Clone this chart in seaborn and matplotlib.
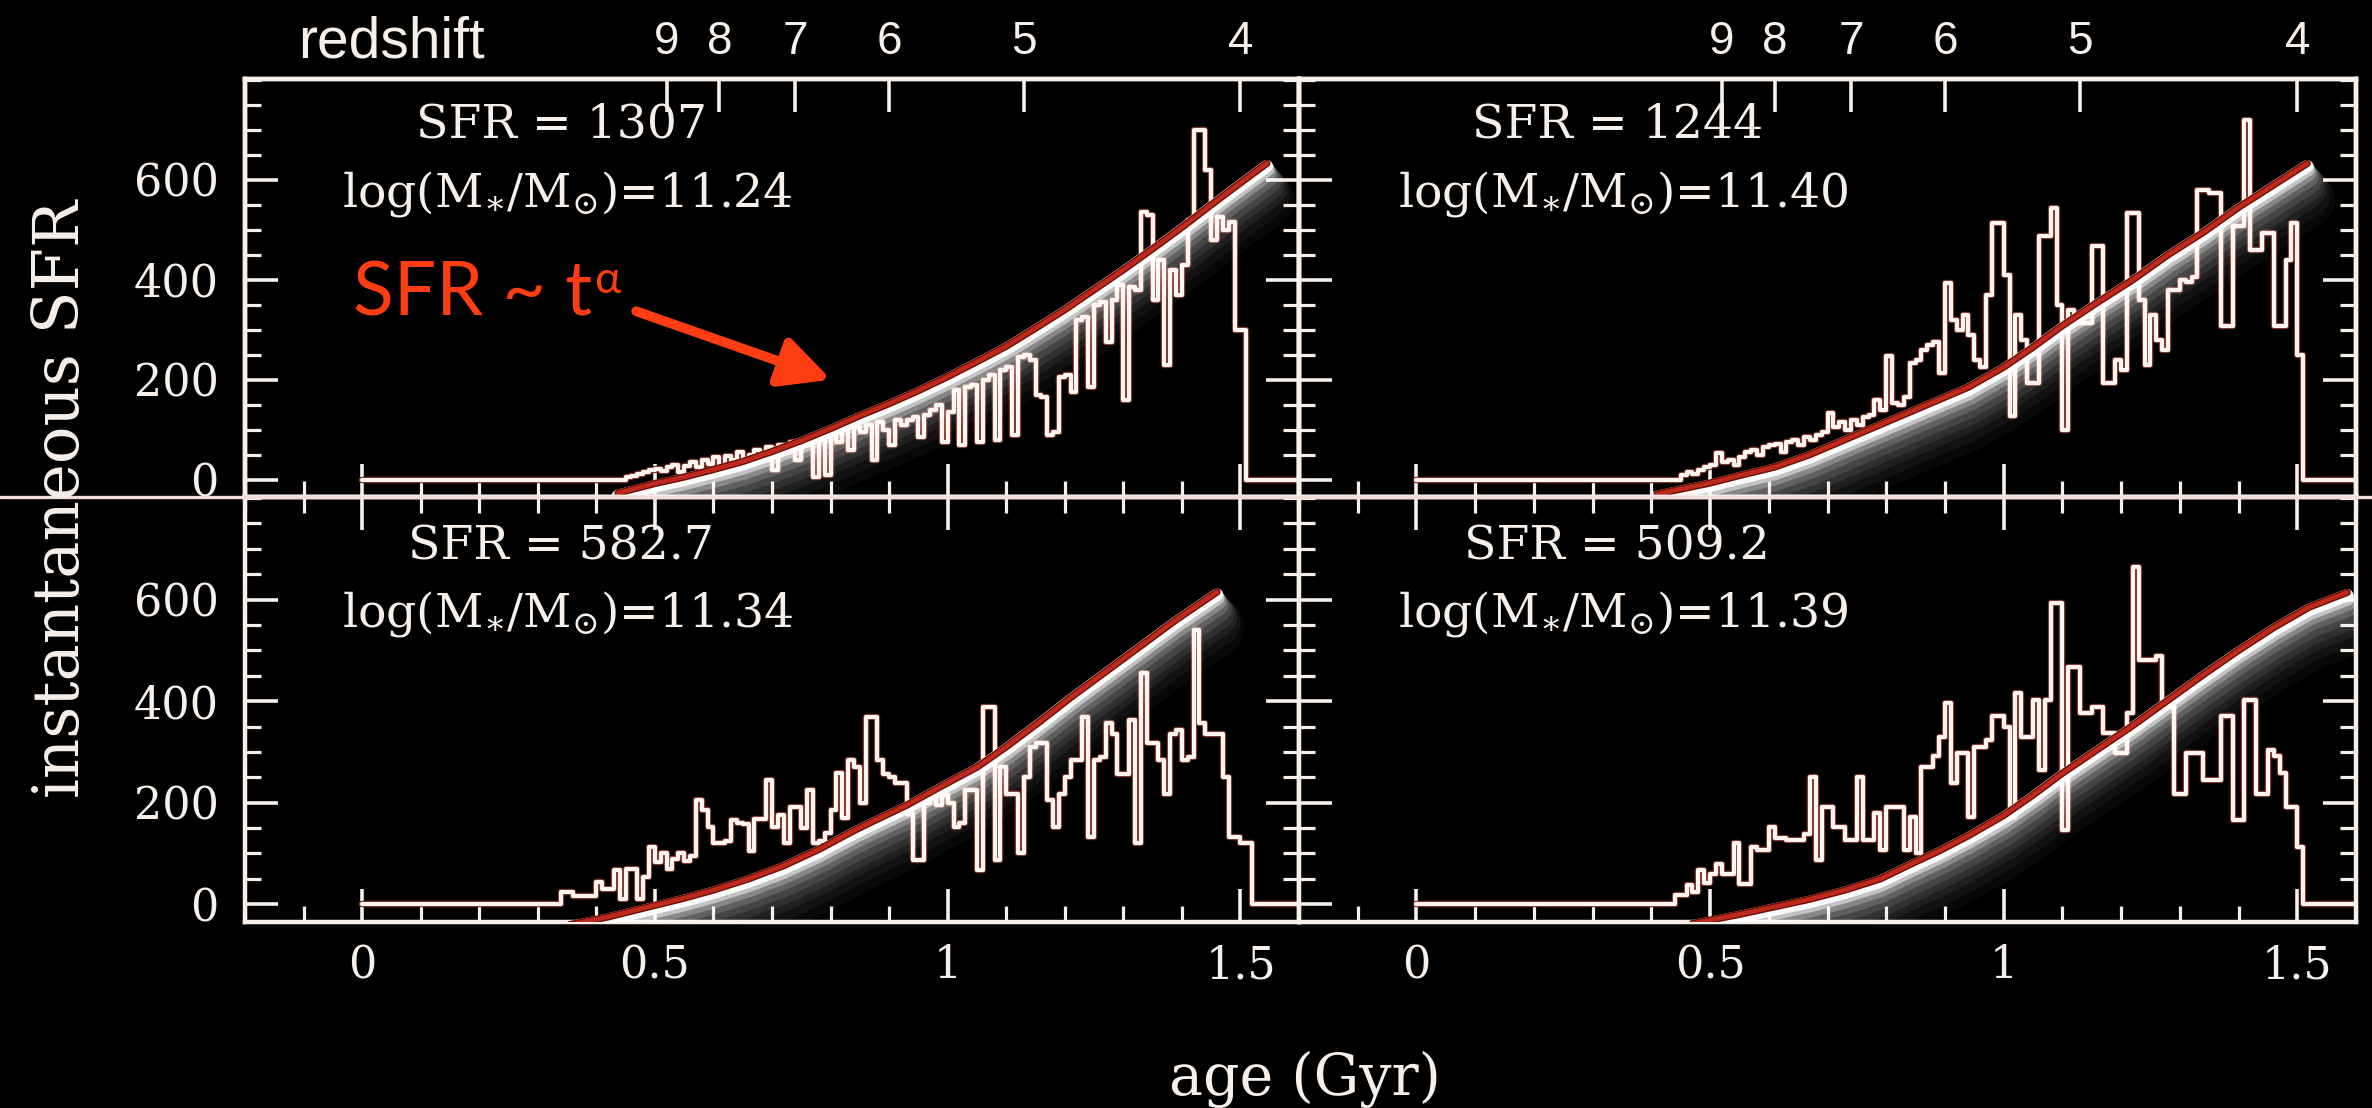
import numpy as np
import matplotlib
matplotlib.use("Agg")
import matplotlib.pyplot as plt
import matplotlib.patheffects as pe
from matplotlib.ticker import FixedLocator, MultipleLocator, NullLocator, FixedFormatter
from matplotlib.lines import Line2D
import seaborn as sns

# ---------------- data ----------------
BIN_W = 0.01

tl_start = 0.45
tl_hist = [5, 8, 12, 15, 20, 22, 18, 25, 30, 15,
           28, 35, 25, 40, 32, 45, 20, 48, 40, 55,
           30, 50, 60, 45, 65, 20, 70, 55, 75, 40,
           80, 70, 5, 85, 10, 90, 75, 100, 60, 105,
           95, 110, 40, 115, 100, 70, 120, 110,
           120, 125, 85, 130, 140, 150, 75, 135, 180, 70,
           185, 190, 75, 200, 210, 80, 220, 225, 90, 245,
           250, 240, 170, 165, 90, 95, 205, 210, 175, 320,
           325, 185, 350, 355, 275, 360, 390, 160, 385, 380,
           535, 530, 360, 440, 230, 420, 370, 430, 520, 700,
           700, 620, 480, 525, 500, 515, 300, 300]

tr_start = 0.45
tr_hist = [10, 15, 12, 20, 25, 30, 53, 35, 40, 30,
           45, 55, 60, 50, 65, 70, 72, 55, 75, 80,
           70, 85, 80, 90, 95, 133, 105, 115, 100, 120,
           110, 125, 130, 160, 140, 247, 153, 150, 165, 233,
           240, 260, 270, 275, 213, 393, 320, 300, 330,
           290, 240, 225, 370, 513, 513, 410, 127, 330, 280,
           193, 193, 487, 487, 543, 350, 100, 340, 313, 313,
           313, 467, 467, 193, 193, 240, 220, 533, 533, 360,
           230, 330, 280, 260, 380, 380, 400, 395, 405, 580,
           580, 573, 573, 307, 307, 507, 507, 720, 460, 460,
           493, 493, 307, 307, 440, 513, 250]

bl_start = 0.33
bl_hist = [0, 24, 24, 16, 16, 16, 16, 43, 30, 30,
           67, 10, 70, 70, 10, 54, 113, 83, 100, 70,
           89, 100, 85, 95, 205, 185, 152, 120, 120, 125,
           165, 160, 158, 105, 168, 168, 245, 152, 175, 120,
           192, 192, 150, 225, 120, 125, 140, 185, 258, 170,
           284, 270, 200, 369,
           369, 284, 257, 250, 238, 238, 178, 87, 87, 200,
           210, 195, 215, 200, 152, 160, 225, 225, 67, 389,
           389, 87, 271, 218, 218, 100, 251, 310, 317, 317,
           205, 152, 218, 250, 284, 284, 369, 133, 284, 290,
           356, 336, 257, 257, 363, 120, 455, 317, 317, 284,
           218, 336, 343, 284, 290, 540, 356, 336, 336, 336,
           251, 133, 133, 120, 120]

br_start = 0.44
br_hist = [18, 18, 37, 24, 67, 41, 60, 80, 60, 60,
           120, 40, 40, 113, 107, 107, 153, 130, 130, 126,
           126, 126, 139, 251, 87, 192, 192, 153, 153, 126,
           126, 251, 126, 126, 179, 107, 192, 192, 192, 107,
           172, 100, 271, 271, 291, 330, 396, 238, 297, 297,
           172, 310, 310, 323, 370, 370, 350, 172, 416, 330,
           330, 402, 264, 402, 593, 593, 146, 468, 468, 376,
           376, 389, 389, 337, 337, 297, 297, 376, 665, 481,
           481, 481, 488, 389, 389, 218, 218, 297, 297, 297,
           245, 245, 245, 370, 370, 166, 166, 402, 402, 218,
           218, 304, 291, 258, 192, 192, 113]

tl_fit_age = [0.437, 0.50, 0.55, 0.60, 0.65, 0.70, 0.75, 0.80, 0.85, 0.90, 0.95,
              1.00, 1.05, 1.10, 1.15, 1.20, 1.25, 1.30, 1.35, 1.40, 1.45, 1.50, 1.545]
tl_fit_sfr = [-27, -8, 5, 20, 36, 56, 78, 102, 128, 152, 178,
              206, 236, 267, 303, 340, 380, 420, 462, 505, 550, 594, 633]

tr_fit_age = [0.41, 0.50, 0.55, 0.61, 0.67, 0.73, 0.79, 0.84, 0.89, 0.94,
              1.00, 1.05, 1.10, 1.16, 1.22, 1.28, 1.34, 1.40, 1.46, 1.517]
tr_fit_sfr = [-29, -7, 8, 25, 50, 80, 110, 135, 160, 185,
              225, 265, 308, 355, 400, 450, 495, 545, 590, 633]

bl_fit_age = [0.355, 0.42, 0.49, 0.55, 0.60, 0.66, 0.72, 0.78, 0.84, 0.87,
              0.93, 0.99, 1.05, 1.10, 1.16, 1.21, 1.27, 1.33, 1.39, 1.46]
bl_fit_sfr = [-40, -25, -5, 12, 28, 50, 76, 108, 145, 162,
              195, 233, 270, 310, 362, 407, 458, 509, 560, 615]

br_fit_age = [0.47, 0.55, 0.61, 0.67, 0.73, 0.79, 0.84, 0.89, 0.94, 1.00,
              1.05, 1.10, 1.16, 1.22, 1.28, 1.34, 1.40, 1.46, 1.52, 1.585]
br_fit_sfr = [-38, -20, -5, 10, 28, 50, 78, 105, 135, 175,
              215, 258, 305, 352, 402, 452, 500, 545, 585, 614]

sfr_labels = ["1307", "1244", "582.7", "509.2"]
logm_labels = ["11.24", "11.40", "11.34", "11.39"]

x_ticks = [0, 0.5, 1.0, 1.5]
x_tick_labels = ["0", "0.5", "1", "1.5"]
y_ticks = [0, 200, 400, 600]
y_tick_labels = ["0", "200", "400", "600"]
z_ages = [0.52, 0.61, 0.74, 0.90, 1.13, 1.50]
z_labels = ["9", "8", "7", "6", "5", "4"]

XLIM = (-0.2, 1.6)
YLIM = (-35, 802)

# ---------------- style ----------------
sns.set_theme(style="ticks")
FG = "#f7efea"
plt.rcParams.update({
    "figure.facecolor": "black",
    "axes.facecolor": "black",
    "savefig.facecolor": "black",
    "axes.edgecolor": FG,
    "text.color": FG,
    "xtick.color": FG,
    "ytick.color": FG,
    "axes.grid": False,
    "mathtext.fontset": "dejavuserif",
})
plt.rcParams["font.family"] = ["DejaVu Serif", "DejaVu Sans"]

W, H = 2372, 1108
fig = plt.figure(figsize=(W / 100, H / 100), dpi=100)

x_left, x_mid, x_right = 245, 1299, 2356
y_top, y_mid, y_bot = 79, 497, 922


def fax(x0, x1, y0, y1):
    return fig.add_axes([x0 / W, 1 - y1 / H, (x1 - x0) / W, (y1 - y0) / H])


ax_tl = fax(x_left, x_mid, y_top, y_mid)
ax_tr = fax(x_mid, x_right, y_top, y_mid)
ax_bl = fax(x_left, x_mid, y_mid, y_bot)
ax_br = fax(x_mid, x_right, y_mid, y_bot)

hist_fx = [pe.Stroke(linewidth=4.6, foreground="#7a2c22"), pe.Normal()]

glow_layers = [(-26, 40, 0.035), (-22, 34, 0.045), (-18, 29, 0.06),
               (-15, 25, 0.08), (-12, 21, 0.10), (-9, 17, 0.15),
               (-6.5, 13.5, 0.25), (-4, 11, 0.5), (-2, 9, 0.92)]
glow_fx = [pe.Stroke(offset=(0, dy), linewidth=lw, foreground="white", alpha=a)
           for dy, lw, a in glow_layers]
glow_fx += [pe.Stroke(linewidth=5.2, foreground="#6e0c06"), pe.Normal()]


def step_xy(start, vals):
    edges = start + BIN_W * np.arange(len(vals) + 1)
    x = np.concatenate([[0.0], edges, [XLIM[1]]])
    y = np.concatenate([[0.0], np.asarray(vals, float), [0.0, 0.0]])
    return x, y


panels = [
    (ax_tl, tl_start, tl_hist, tl_fit_age, tl_fit_sfr, True, True),
    (ax_tr, tr_start, tr_hist, tr_fit_age, tr_fit_sfr, True, False),
    (ax_bl, bl_start, bl_hist, bl_fit_age, bl_fit_sfr, False, True),
    (ax_br, br_start, br_hist, br_fit_age, br_fit_sfr, False, False),
]

for i, (ax, start, hist, fa, fs, is_top, is_left) in enumerate(panels):
    hx, hy = step_xy(start, hist)
    sns.lineplot(x=hx, y=hy, ax=ax, drawstyle="steps-post", sort=False,
                 estimator=None, color="#fff6f0", lw=3.0, path_effects=hist_fx, zorder=2)
    sns.lineplot(x=fa, y=fs, ax=ax, sort=False, estimator=None,
                 color="#bb2a1c", lw=3.2, path_effects=glow_fx,
                 solid_capstyle="round", zorder=3)
    ax.set_xlim(*XLIM)
    ax.set_ylim(*YLIM)
    ax.set_xlabel("")
    ax.set_ylabel("")

    if is_top:
        axz = ax.twiny()
        axz.set_xlim(*XLIM)
        axz.xaxis.set_major_locator(FixedLocator(z_ages))
        axz.xaxis.set_major_formatter(FixedFormatter(z_labels))
        axz.xaxis.set_minor_locator(NullLocator())
        axz.tick_params(axis="x", which="major", direction="in", length=24,
                        width=2.6, colors=FG, labelsize=33, pad=11,
                        labelfontfamily="Liberation Sans",
                        top=True, bottom=False, labeltop=True, labelbottom=False)
        axz.tick_params(axis="x", which="minor", top=False, bottom=False)
        for sp in axz.spines.values():
            sp.set_color(FG)
            sp.set_linewidth(3.2)

    for sp in ax.spines.values():
        sp.set_visible(True)
        sp.set_color(FG)
        sp.set_linewidth(3.2)
    ax.xaxis.set_major_locator(FixedLocator(x_ticks))
    ax.xaxis.set_major_formatter(FixedFormatter(x_tick_labels))
    ax.xaxis.set_minor_locator(MultipleLocator(0.1))
    ax.yaxis.set_major_locator(FixedLocator(y_ticks))
    ax.yaxis.set_major_formatter(FixedFormatter(y_tick_labels))
    ax.yaxis.set_minor_locator(MultipleLocator(50))
    ax.tick_params(axis="both", which="both", direction="in", colors=FG,
                   top=not is_top, right=True, bottom=True, left=True,
                   labeltop=False, labelright=False)
    ax.tick_params(which="major", length=24, width=2.6)
    ax.tick_params(which="minor", length=11.5, width=2.3)
    ax.tick_params(axis="x", labelsize=32, pad=16, labelbottom=not is_top)
    ax.tick_params(axis="y", labelsize=32, pad=19, labelleft=is_left)

    y_sfr = 0.861 if is_top else 0.852
    cx = 0.300 if is_left else 0.301
    ax.text(cx, y_sfr, f"SFR = {sfr_labels[i]}", transform=ax.transAxes,
            ha="center", va="baseline", fontsize=34, color=FG, zorder=5)
    ax.text(cx + 0.006, 0.696,
            r"log(M$_{\ast}$/M$_{\odot}$)=" + logm_labels[i],
            transform=ax.transAxes, ha="center", va="baseline",
            fontsize=34, color=FG, zorder=5)

# full-width divider line
fig.add_artist(Line2D([0, 1], [1 - y_mid / H, 1 - y_mid / H],
                      transform=fig.transFigure, color="#f3ddd6", lw=2.4, zorder=1))

# annotation
ORANGE = "#ff3d12"
ax_tl.text(-0.0154, 328, "SFR ~ t", fontsize=54, color=ORANGE,
           family=["Lato", "DejaVu Sans"], ha="left", va="baseline", zorder=6)
ax_tl.text(0.397, 374, "α", fontsize=32, color=ORANGE,
           family=["Lato", "DejaVu Sans"], ha="left", va="baseline", zorder=6)
ax_tl.annotate("", xy=(0.801, 200), xytext=(0.468, 337),
               arrowprops=dict(arrowstyle="-|>,head_length=0.30,head_width=0.15",
                               mutation_scale=100, lw=7, color=ORANGE,
                               shrinkA=0, shrinkB=0),
               annotation_clip=False, zorder=6)

# figure labels
fig.text(298.5 / W, 1 - 57 / H, "redshift", family="Liberation Sans",
         fontsize=41, ha="left", va="baseline", color=FG)
fig.text(1305 / W, 13 / H, "age (Gyr)", fontsize=41, ha="center",
         va="baseline", color=FG)
fig.text(61 / W, 1 - 499 / H, "instantaneous SFR", fontsize=45,
         rotation=90, ha="center", va="center", color=FG, zorder=3)

fig.savefig("out.png", dpi=100, facecolor="black")
